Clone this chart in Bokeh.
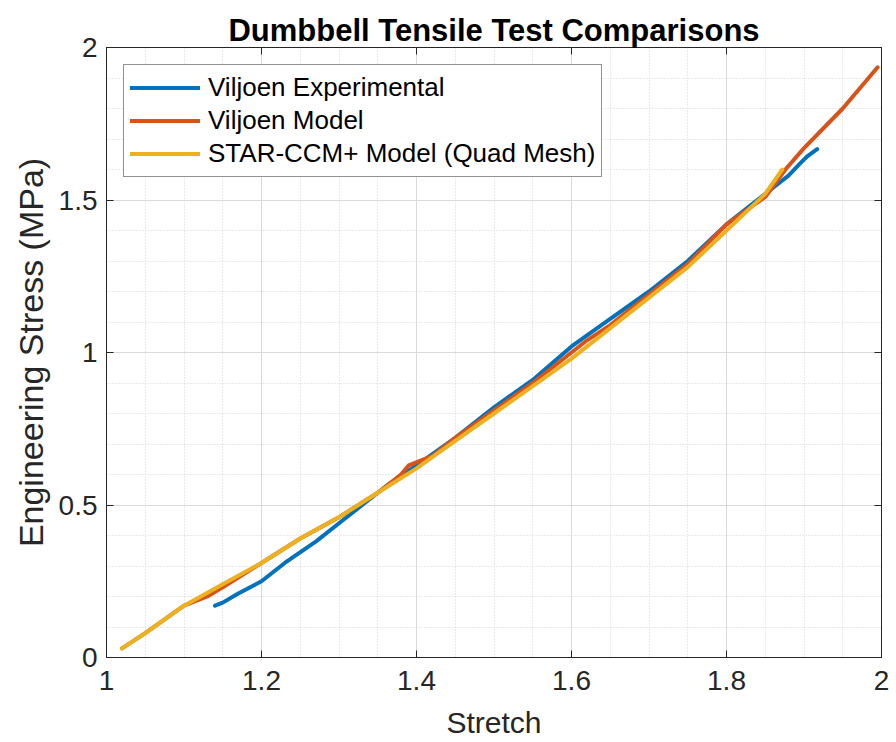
from bokeh.plotting import figure
from bokeh.embed import file_html
from bokeh.resources import INLINE
from bokeh.models import FixedTicker, LinearAxis, Range1d, Legend, LegendItem

# ---- data ----
exp_x = [1.14, 1.15, 1.17, 1.20, 1.23, 1.27, 1.30, 1.33, 1.36, 1.40, 1.45, 1.50, 1.55, 1.60,
         1.65, 1.70, 1.75, 1.80, 1.85, 1.865, 1.88, 1.895, 1.905, 1.917]
exp_y = [0.17, 0.18, 0.21, 0.25, 0.31, 0.38, 0.44, 0.50, 0.56, 0.63, 0.72, 0.82, 0.91, 1.02,
         1.11, 1.20, 1.30, 1.42, 1.52, 1.55, 1.58, 1.62, 1.645, 1.667]

mod_x = [1.02, 1.05, 1.10, 1.13, 1.15, 1.20, 1.25, 1.30, 1.35, 1.38, 1.39, 1.42, 1.45, 1.50,
         1.55, 1.60, 1.62, 1.65, 1.70, 1.75, 1.80, 1.85, 1.876, 1.90, 1.95, 1.995]
mod_y = [0.03, 0.08, 0.17, 0.20, 0.23, 0.31, 0.39, 0.46, 0.54, 0.60, 0.63, 0.66, 0.72, 0.81,
         0.90, 1.00, 1.04, 1.09, 1.19, 1.29, 1.42, 1.51, 1.60, 1.67, 1.80, 1.935]

star_x = [1.02, 1.05, 1.10, 1.15, 1.20, 1.25, 1.30, 1.35, 1.40, 1.45, 1.50, 1.55, 1.60, 1.65,
          1.70, 1.75, 1.80, 1.85, 1.872]
star_y = [0.03, 0.08, 0.17, 0.24, 0.31, 0.39, 0.46, 0.54, 0.62, 0.71, 0.80, 0.89, 0.98, 1.08,
          1.18, 1.28, 1.40, 1.52, 1.60]

series_names = ["Viljoen Experimental", "Viljoen Model", "STAR-CCM+ Model (Quad Mesh)"]
series_colors = ["#0072BD", "#D95319", "#EDB120"]

x_ticks = [1.0, 1.2, 1.4, 1.6, 1.8, 2.0]
x_tick_labels = ["1", "1.2", "1.4", "1.6", "1.8", "2"]
y_ticks = [0.0, 0.5, 1.0, 1.5, 2.0]
y_tick_labels = ["0", "0.5", "1", "1.5", "2"]
x_minor = [1 + 0.05 * i for i in range(21)]
y_minor = [0.1 * i for i in range(21)]

FONT = "Liberation Sans"
AX = "#262626"

p = figure(width=896, height=742, output_backend="svg", toolbar_location=None,
           x_range=Range1d(1, 2), y_range=Range1d(0, 2),
           min_border_left=106, min_border_right=15, min_border_top=47, min_border_bottom=85,
           background_fill_color="white", border_fill_color="white",
           outline_line_color=AX, outline_line_width=1)

p.title.text = "Dumbbell Tensile Test Comparisons"
p.title.align = "center"
p.title.text_font = FONT
p.title.text_font_size = "31px"
p.title.text_font_style = "bold"
p.title.text_color = "black"
p.title.offset = 0
p.title.standoff = 0

rs = []
for xs, ys, c in zip([exp_x, mod_x, star_x], [exp_y, mod_y, star_y], series_colors):
    r = p.line(xs, ys, line_color=c, line_width=4, line_join="round", line_cap="round")
    rs.append(r)

# axes
for ax in [p.xaxis[0], p.yaxis[0]]:
    ax.major_tick_in = 7
    ax.major_tick_out = 0
    ax.minor_tick_in = 0
    ax.minor_tick_out = 0
    ax.axis_line_color = AX
    ax.major_tick_line_color = AX
    ax.major_label_text_font = FONT
    ax.major_label_text_font_size = "28px"
    ax.major_label_text_color = AX
    ax.axis_label_text_font = FONT
    ax.axis_label_text_font_style = "normal"
    ax.axis_label_text_color = AX

p.xaxis[0].ticker = FixedTicker(ticks=x_ticks, minor_ticks=x_minor)
p.yaxis[0].ticker = FixedTicker(ticks=y_ticks, minor_ticks=y_minor)
p.xaxis[0].major_label_overrides = dict(zip(x_ticks, x_tick_labels))
p.yaxis[0].major_label_overrides = dict(zip(y_ticks, y_tick_labels))
p.xaxis[0].axis_label = "Stretch"
p.yaxis[0].axis_label = "Engineering Stress (MPa)"
p.xaxis[0].axis_label_text_font_size = "30px"
p.yaxis[0].axis_label_text_font_size = "34px"
p.xaxis[0].major_label_standoff = 13
p.yaxis[0].major_label_standoff = 9
p.xaxis[0].axis_label_standoff = 13
p.yaxis[0].axis_label_standoff = 6

top = LinearAxis(ticker=FixedTicker(ticks=x_ticks),
                 major_label_overrides={t: "" for t in x_ticks},
                 major_tick_in=7, major_tick_out=0, minor_tick_in=0, minor_tick_out=0,
                 axis_line_color=AX, major_tick_line_color=AX, major_label_standoff=0)
right = LinearAxis(ticker=FixedTicker(ticks=y_ticks),
                   major_label_overrides={t: "" for t in y_ticks},
                   major_tick_in=7, major_tick_out=0, minor_tick_in=0, minor_tick_out=0,
                   axis_line_color=AX, major_tick_line_color=AX, major_label_standoff=0)
p.add_layout(top, "above")
p.add_layout(right, "right")

# grids
p.xgrid.ticker = FixedTicker(ticks=x_ticks, minor_ticks=x_minor)
p.ygrid.ticker = FixedTicker(ticks=y_ticks, minor_ticks=y_minor)
for g in [p.xgrid[0], p.ygrid[0]]:
    g.grid_line_color = "#dadada"
    g.grid_line_width = 1
    g.minor_grid_line_color = "#d2d2d2"
    g.minor_grid_line_dash = "1 2"
    g.minor_grid_line_width = 1

legend = Legend(items=[LegendItem(label=n, renderers=[r]) for n, r in zip(series_names, rs)],
                location="top_left")
legend.label_text_font = FONT
legend.label_text_font_size = "26px"
legend.label_text_color = "black"
legend.glyph_width = 70
legend.glyph_height = 33
legend.label_height = 33
legend.label_standoff = 8
legend.spacing = 0
legend.padding = 6
legend.margin = 17
legend.border_line_color = AX
legend.border_line_width = 1
legend.background_fill_color = "white"
legend.background_fill_alpha = 1
p.add_layout(legend, "center")

open("out.html", "w").write(file_html(p, INLINE))
